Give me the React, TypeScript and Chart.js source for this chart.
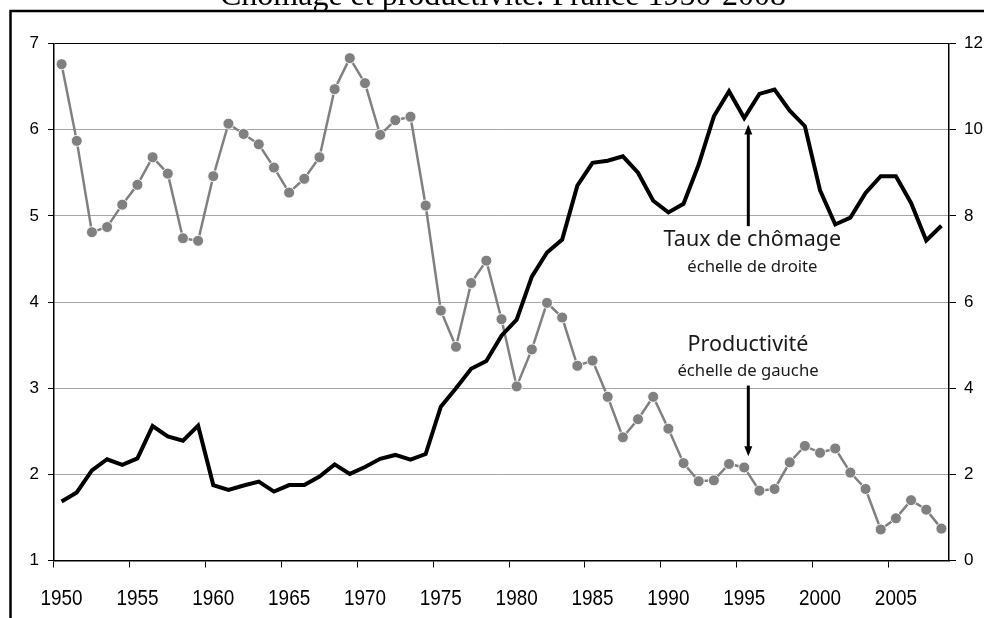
import React, { useEffect, useRef } from 'react';
import { Chart, registerables } from 'chart.js';

Chart.register(...registerables);

const years = [
  '1950', '1951', '1952', '1953', '1954', '1955', '1956', '1957', '1958', '1959',
  '1960', '1961', '1962', '1963', '1964', '1965', '1966', '1967', '1968', '1969',
  '1970', '1971', '1972', '1973', '1974', '1975', '1976', '1977', '1978', '1979',
  '1980', '1981', '1982', '1983', '1984', '1985', '1986', '1987', '1988', '1989',
  '1990', '1991', '1992', '1993', '1994', '1995', '1996', '1997', '1998', '1999',
  '2000', '2001', '2002', '2003', '2004', '2005', '2006', '2007', '2008',
];

// Productivité (échelle de gauche)
const productivite = [
  6.76, 5.87, 4.81, 4.87, 5.13, 5.36, 5.68, 5.49, 4.74, 4.71,
  5.46, 6.07, 5.95, 5.83, 5.56, 5.27, 5.43, 5.68, 6.47, 6.83,
  6.54, 5.94, 6.11, 6.15, 5.12, 3.90, 3.48, 4.22, 4.48, 3.80,
  3.02, 3.45, 3.99, 3.82, 3.26, 3.32, 2.90, 2.43, 2.64, 2.90,
  2.53, 2.13, 1.92, 1.93, 2.12, 2.08, 1.81, 1.83, 2.14, 2.33,
  2.25, 2.30, 2.02, 1.83, 1.36, 1.49, 1.70, 1.59, 1.37,
];

// Taux de chômage (échelle de droite)
const chomage = [
  1.37, 1.58, 2.09, 2.35, 2.22, 2.37, 3.12, 2.88, 2.78, 3.13,
  1.75, 1.64, 1.74, 1.83, 1.60, 1.75, 1.75, 1.95, 2.23, 2.01,
  2.17, 2.36, 2.45, 2.34, 2.47, 3.57, 4.00, 4.45, 4.63, 5.22,
  5.59, 6.59, 7.15, 7.45, 8.70, 9.23, 9.28, 9.38, 9.00, 8.35,
  8.08, 8.28, 9.19, 10.31, 10.89, 10.27, 10.83, 10.93, 10.44, 10.08,
  8.59, 7.80, 7.96, 8.53, 8.92, 8.92, 8.30, 7.43, 7.77,
];

const leftTicks = [1, 2, 3, 4, 5, 6, 7];
const rightTicks = [0, 2, 4, 6, 8, 10, 12];

const titleText = 'Chômage et productivité. France 1950-2008';

// annotation labels: position in data units (category index, axis value)
const labels = [
  { text: 'Taux de chômage', idx: 45.54, value: 7.31, axis: 'y1', size: 21.5 },
  { text: 'échelle de droite', idx: 45.54, value: 6.70, axis: 'y1', size: 16.7 },
  { text: 'Productivité', idx: 45.25, value: 3.43, axis: 'y', size: 21.5 },
  { text: 'échelle de gauche', idx: 45.25, value: 3.14, axis: 'y', size: 16.7 },
];

const arrows = [
  { idx: 45.27, from: 7.76, to: 10.12, axis: 'y1' },
  { idx: 45.27, from: 3.03, to: 2.21, axis: 'y' },
];

const decorPlugin = {
  id: 'decor',
  beforeDraw(chart: any) {
    const ctx = chart.ctx;
    ctx.save();
    ctx.fillStyle = '#ffffff';
    ctx.fillRect(0, 0, chart.width, chart.height);
    ctx.restore();
  },
  afterDraw(chart: any) {
    const ctx = chart.ctx;
    const xs = chart.scales.x;
    ctx.save();
    // outer frame
    ctx.strokeStyle = '#000';
    ctx.lineWidth = 2.5;
    ctx.strokeRect(10.5, 11, 1100, 800);
    // title
    ctx.fillStyle = '#000';
    ctx.font = "32px 'Liberation Serif'";
    ctx.textAlign = 'center';
    ctx.textBaseline = 'alphabetic';
    ctx.fillText(titleText, 503, 5);
    // x-axis year labels (narrow)
    ctx.font = "22px 'Liberation Sans'";
    years.forEach((yr, i) => {
      if (i % 5 !== 0) return;
      const x = xs.getPixelForValue(i);
      ctx.save();
      ctx.translate(x, 605);
      ctx.scale(0.86, 1);
      ctx.fillText(yr, 0, 0);
      ctx.restore();
    });
    // annotation texts
    ctx.fillStyle = '#1a1a1a';
    labels.forEach((l) => {
      const x = xs.getPixelForValue(l.idx);
      const y = chart.scales[l.axis].getPixelForValue(l.value);
      ctx.font = `${l.size}px 'Noto Sans'`;
      ctx.fillText(l.text, x, y);
    });
    // arrows
    ctx.strokeStyle = '#000';
    ctx.fillStyle = '#000';
    ctx.lineWidth = 3;
    arrows.forEach((a) => {
      const x = xs.getPixelForValue(a.idx);
      const ys = chart.scales[a.axis];
      const y0 = ys.getPixelForValue(a.from);
      const y1 = ys.getPixelForValue(a.to);
      const dir = y1 < y0 ? -1 : 1;
      ctx.beginPath();
      ctx.moveTo(x, y0);
      ctx.lineTo(x, y1 - dir * 8);
      ctx.stroke();
      ctx.beginPath();
      ctx.moveTo(x, y1);
      ctx.lineTo(x - 4, y1 - dir * 10);
      ctx.lineTo(x + 4, y1 - dir * 10);
      ctx.closePath();
      ctx.fill();
    });
    ctx.restore();
  },
};

export default function App() {
  const canvasRef = useRef<HTMLCanvasElement | null>(null);

  useEffect(() => {
    if (!canvasRef.current) return;
    const chart = new Chart(canvasRef.current, {
      type: 'line',
      data: {
        labels: years,
        datasets: [
          {
            label: 'Taux de chômage',
            data: chomage,
            yAxisID: 'y1',
            borderColor: '#000000',
            borderWidth: 4,
            pointRadius: 0,
            tension: 0,
            order: 0,
          },
          {
            label: 'Productivité',
            data: productivite,
            yAxisID: 'y',
            borderColor: '#808080',
            borderWidth: 2.5,
            pointRadius: 5.5,
            pointBackgroundColor: '#808080',
            pointBorderColor: 'rgba(255,255,255,0.9)',
            pointBorderWidth: 1,
            tension: 0,
            order: 1,
          },
        ],
      },
      options: {
        animation: false,
        responsive: true,
        maintainAspectRatio: false,
        layout: { padding: { top: 43.5, left: 0, right: 0, bottom: 0 } },
        plugins: {
          legend: { display: false },
          tooltip: { enabled: false },
          title: { display: false },
        },
        scales: {
          x: {
            type: 'category',
            offset: true,
            grid: {
              display: true,
              offset: true,
              drawOnChartArea: false,
              drawTicks: true,
              tickLength: 7,
              tickColor: (c: any) => (c.index % 5 === 0 ? '#000' : 'rgba(0,0,0,0)'),
            },
            border: { display: true, color: '#000', width: 1.5 },
            ticks: {
              autoSkip: false,
              maxRotation: 0,
              minRotation: 0,
              padding: 17,
              color: 'rgba(0,0,0,0)',
              font: { family: "'Liberation Sans'", size: 22 },
              callback: (_v: any, i: number) => (i % 5 === 0 ? years[i] : ''),
            },
            afterFit: (s: any) => {
              s.height = 57.5;
            },
          },
          y: {
            position: 'left',
            min: 1,
            max: 7,
            afterBuildTicks: (s: any) => {
              s.ticks = leftTicks.map((v) => ({ value: v }));
            },
            grid: {
              color: (c: any) => (c.tick && c.tick.value === 7 ? '#000' : '#a6a6a6'),
              lineWidth: 1,
              tickColor: '#000',
              tickLength: 6,
            },
            border: { display: true, color: '#000', width: 1.5 },
            ticks: {
              padding: 9,
              color: '#000',
              font: { family: "'Liberation Sans'", size: 17 },
            },
            afterFit: (s: any) => {
              s.width = 54;
            },
          },
          y1: {
            position: 'right',
            min: 0,
            max: 12,
            afterBuildTicks: (s: any) => {
              s.ticks = rightTicks.map((v) => ({ value: v }));
            },
            grid: {
              drawOnChartArea: false,
              tickColor: '#000',
              tickLength: 7,
            },
            border: { display: true, color: '#000', width: 1.5 },
            ticks: {
              padding: 8,
              color: '#000',
              font: { family: "'Liberation Sans'", size: 17 },
            },
            afterFit: (s: any) => {
              s.width = 35;
            },
          },
        },
      },
      plugins: [decorPlugin],
    } as any);
    return () => chart.destroy();
  }, []);

  return (
    <div style={{ position: 'fixed', left: 0, top: 0, width: 984, height: 618, background: '#fff' }}>
      <canvas ref={canvasRef} />
    </div>
  );
}
